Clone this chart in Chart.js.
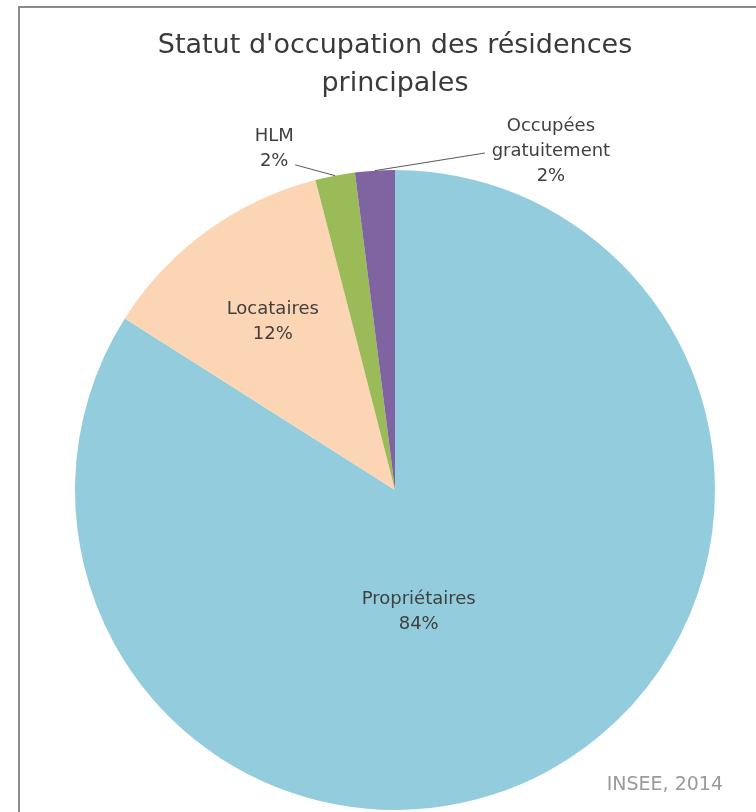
<!DOCTYPE html>
<html lang="fr">
<head>
<meta charset="utf-8">
<title>Statut d'occupation des résidences principales</title>
<script src="https://cdn.jsdelivr.net/npm/chart.js@4/dist/chart.umd.min.js"></script>
<style>
  html, body { margin: 0; padding: 0; background: #fff; }
  #page { position: relative; width: 756px; height: 812px; overflow: hidden; }
  #cadre {
    position: absolute; left: 18px; top: 6px; width: 800px; height: 900px;
    border: 2px solid #8c8c8c; box-sizing: border-box;
  }
  #zone { position: absolute; left: 0; top: 0; width: 756px; height: 812px; }
  #source {
    position: absolute; right: 33px; top: 772px; line-height: 24px;
    font: 19px "DejaVu Sans", sans-serif; color: #9a9a9a;
  }
</style>
</head>
<body>
<div id="page">
  <div id="cadre"></div>
  <div id="zone"><canvas id="camembert"></canvas></div>
  <div id="source">INSEE, 2014</div>
</div>
<script>
// Statut d'occupation (%), dans le sens horaire depuis midi
var statuts = ['Propriétaires', 'Locataires', 'HLM', 'Occupées gratuitement'];
var parts = [84, 12, 2, 2];
var etiquettes = [['Propriétaires', '84%'], ['Locataires', '12%'], ['HLM', '2%'], ['Occupées', 'gratuitement', '2%']];

var couleurs = ['#93cddd', '#fcd5b5', '#9bbb59', '#8064a2'];

// placement des étiquettes : rayon relatif et angle (degrés depuis midi, null = milieu de la part)
var placement = [
  { r: 0.388, a: 169 },
  { r: 0.65, a: null },
  { r: 1.131, a: -19.5, trait: [21, 16] },
  { r: 1.166, a: 24.7, trait: [-66, 2] }
];

var etiquettesPlugin = {
  id: 'etiquettes',
  afterDatasetsDraw: function(chart) {
    var ctx = chart.ctx;
    var arcs = chart.getDatasetMeta(0).data;
    ctx.save();
    ctx.font = '18px "DejaVu Sans", sans-serif';
    ctx.fillStyle = '#404040';
    ctx.textAlign = 'center';
    ctx.textBaseline = 'middle';
    arcs.forEach(function(arc, i) {
      var p = arc.getProps(['x', 'y', 'startAngle', 'endAngle', 'outerRadius'], true);
      var mid = (p.startAngle + p.endAngle) / 2;
      var pl = placement[i];
      var ang = pl.a === null ? mid : (pl.a - 90) * Math.PI / 180;
      var lx = p.x + Math.cos(ang) * p.outerRadius * pl.r;
      var ly = p.y + Math.sin(ang) * p.outerRadius * pl.r;
      if (pl.trait) {
        ctx.beginPath();
        ctx.strokeStyle = '#595959';
        ctx.lineWidth = 1;
        ctx.moveTo(lx + pl.trait[0], ly + pl.trait[1]);
        ctx.lineTo(p.x + Math.cos(mid) * p.outerRadius, p.y + Math.sin(mid) * p.outerRadius);
        ctx.stroke();
      }
      var lignes = etiquettes[i];
      var h = 25;
      lignes.forEach(function(t, k) {
        ctx.fillText(t, lx, ly + (k - (lignes.length - 1) / 2) * h);
      });
    });
    ctx.restore();
  }
};

var config = {
  type: 'pie',
  data: {
    labels: statuts,
    datasets: [{
      data: parts,
      backgroundColor: couleurs,
      borderWidth: 0
    }]
  },
  options: {
    responsive: true,
    maintainAspectRatio: false,
    animation: false,
    layout: { padding: { left: 75, right: 41, top: 0, bottom: 2 } },
    plugins: {
      legend: { display: false },
      tooltip: { enabled: false },
      title: {
        display: true,
        text: ['Statut d\'occupation des résidences', 'principales'],
        color: '#3a3a3a',
        font: { family: '"DejaVu Sans", sans-serif', size: 27, weight: 'normal', lineHeight: 1.4 },
        padding: { top: 27, bottom: 67.4 }
      }
    }
  },
  plugins: [etiquettesPlugin]
};

var ctx = document.getElementById('camembert').getContext('2d');
window.monCamembert = new Chart(ctx, config);
</script>
</body>
</html>
